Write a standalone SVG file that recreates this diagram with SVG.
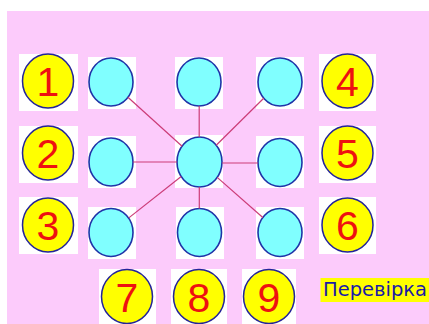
<svg xmlns="http://www.w3.org/2000/svg" width="429" height="324" viewBox="0 0 429 324">
<style>
.sq{fill:#ffffff}
.num{fill:#ffff00;stroke:#23239a;stroke-width:1.5}
.cy{fill:#80ffff;stroke:#1f33a8;stroke-width:1.6}
.dg{font-family:"Liberation Sans",Arial,sans-serif;font-size:41px;fill:#ee1111;text-anchor:middle}
.ln{stroke:#cc3c78;stroke-width:1.2;fill:none}
.lbl{font-family:"DejaVu Sans",Verdana,sans-serif;font-size:19.5px;fill:#1a1aa8}
</style>
<rect x="0" y="0" width="429" height="324" fill="#ffffff"/>
<rect x="7" y="11" width="422" height="313" fill="#fccbfb"/>

<g id="n1"><rect class="sq" x="19" y="54" width="59" height="57"/><ellipse class="num" cx="48" cy="81" rx="25.5" ry="27"/><text class="dg" x="48" y="96">1</text></g>
<g id="n2"><rect class="sq" x="19" y="126" width="59" height="57"/><ellipse class="num" cx="48" cy="153" rx="25.5" ry="27"/><text class="dg" x="48" y="168">2</text></g>
<g id="n3"><rect class="sq" x="19" y="197" width="59" height="57"/><ellipse class="num" cx="48" cy="225" rx="25.5" ry="27"/><text class="dg" x="48" y="240">3</text></g>
<g id="n4"><rect class="sq" x="319" y="54" width="57" height="57"/><ellipse class="num" cx="347.5" cy="81" rx="25.5" ry="27"/><text class="dg" x="347.5" y="96">4</text></g>
<g id="n5"><rect class="sq" x="319" y="126" width="57" height="57"/><ellipse class="num" cx="347.5" cy="153" rx="25.5" ry="27"/><text class="dg" x="347.5" y="168">5</text></g>
<g id="n6"><rect class="sq" x="319" y="197" width="57" height="57"/><ellipse class="num" cx="347.5" cy="225" rx="25.5" ry="27"/><text class="dg" x="347.5" y="240">6</text></g>
<g id="n7"><rect class="sq" x="99" y="269" width="57" height="57"/><ellipse class="num" cx="127" cy="296.5" rx="25.5" ry="27"/><text class="dg" x="127" y="311.5">7</text></g>
<g id="n8"><rect class="sq" x="171" y="269" width="56" height="57"/><ellipse class="num" cx="199" cy="296.5" rx="25.5" ry="27"/><text class="dg" x="199" y="311.5">8</text></g>
<g id="n9"><rect class="sq" x="242" y="269" width="54" height="57"/><ellipse class="num" cx="269" cy="296.5" rx="25.5" ry="27"/><text class="dg" x="269" y="311.5">9</text></g>

<g id="c1"><rect class="sq" x="88" y="57" width="48" height="52"/><ellipse class="cy" cx="111" cy="82" rx="22" ry="24"/></g>
<g id="c2"><rect class="sq" x="175" y="57" width="48" height="52"/><ellipse class="cy" cx="199" cy="82" rx="22" ry="24"/></g>
<g id="c3"><rect class="sq" x="256" y="57" width="48" height="52"/><ellipse class="cy" cx="280" cy="82" rx="22" ry="24"/></g>
<g id="c4"><rect class="sq" x="88" y="136" width="48" height="52"/><ellipse class="cy" cx="111" cy="162" rx="22" ry="24"/></g>
<g id="c5"><rect class="sq" x="175" y="135" width="48" height="53"/><ellipse class="cy" cx="199.5" cy="162" rx="22.5" ry="25"/></g>
<g id="c6"><rect class="sq" x="256" y="136" width="48" height="52"/><ellipse class="cy" cx="280" cy="162.5" rx="22" ry="24"/></g>
<g id="c7"><rect class="sq" x="88" y="207" width="48" height="52"/><ellipse class="cy" cx="111" cy="232.5" rx="22" ry="24"/></g>
<g id="c8"><rect class="sq" x="176" y="207" width="48" height="52"/><ellipse class="cy" cx="199.5" cy="232.5" rx="22" ry="24"/></g>
<g id="c9"><rect class="sq" x="256" y="207" width="48" height="52"/><ellipse class="cy" cx="280" cy="232.5" rx="22" ry="24"/></g>

<g id="connectors">
<line class="ln" x1="127.9" y1="97.3" x2="182.1" y2="146.2"/>
<line class="ln" x1="199.2" y1="106" x2="199.2" y2="137"/>
<line class="ln" x1="263.7" y1="98.2" x2="216.2" y2="145.3"/>
<line class="ln" x1="133" y1="162" x2="177" y2="162"/>
<line class="ln" x1="222" y1="163" x2="258" y2="163"/>
<line class="ln" x1="128.8" y1="217.9" x2="181.2" y2="176.5"/>
<line class="ln" x1="199.3" y1="187" x2="199.3" y2="208.5"/>
<line class="ln" x1="262.8" y1="217.5" x2="217.2" y2="177.4"/>
</g>

<g id="check"><rect x="320.5" y="278" width="108.5" height="24" fill="#ffff00"/><text class="lbl" x="323" y="295.5">Перевірка</text></g>
</svg>
